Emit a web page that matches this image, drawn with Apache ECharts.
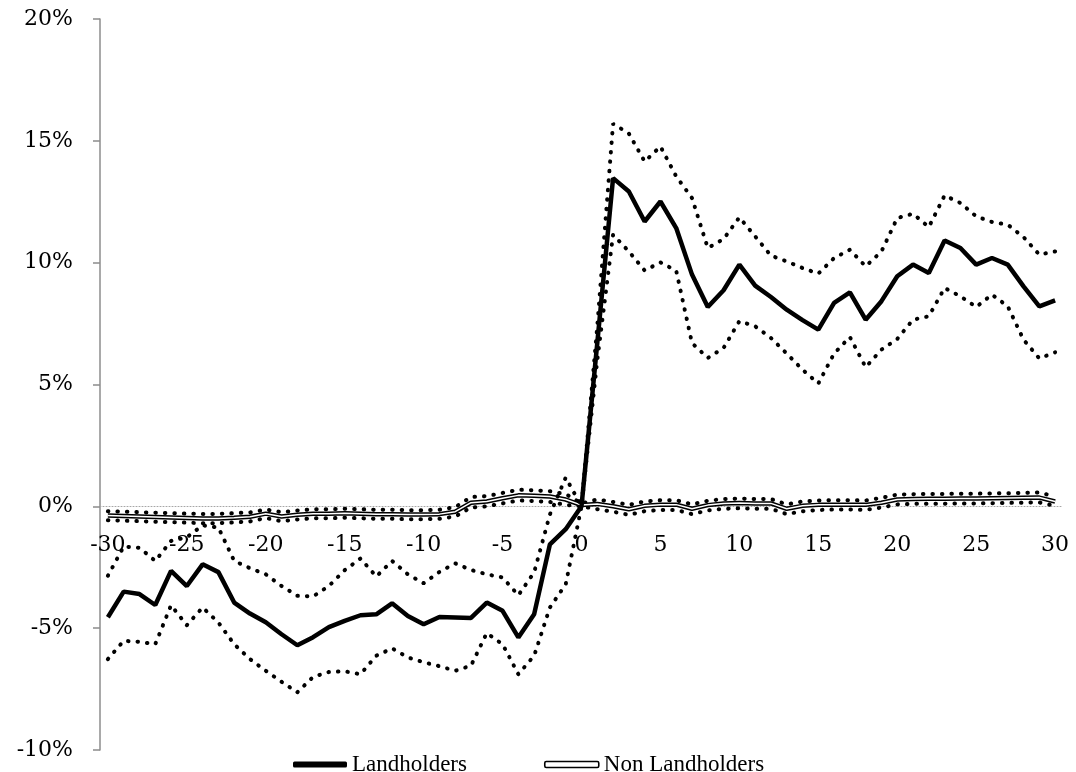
<!DOCTYPE html>
<html>
<head>
<meta charset="utf-8">
<script src="https://cdn.jsdelivr.net/npm/echarts@6/dist/echarts.min.js"></script>
<style>
html,body{margin:0;padding:0;background:#fff;}
#chart{width:1076px;height:772px;}
</style>
</head>
<body>
<div id="chart"></div>
<script>
const categories = ['-30','-29','-28','-27','-26','-25','-24','-23','-22','-21','-20','-19','-18','-17','-16','-15','-14','-13','-12','-11','-10','-9','-8','-7','-6','-5','-4','-3','-2','-1','0','1','2','3','4','5','6','7','8','9','10','11','12','13','14','15','16','17','18','19','20','21','22','23','24','25','26','27','28','29','30'];

const landholders = [-4.55,-3.5,-3.6,-4.05,-2.65,-3.27,-2.38,-2.7,-3.95,-4.4,-4.76,-5.25,-5.7,-5.37,-4.96,-4.7,-4.47,-4.43,-3.98,-4.5,-4.84,-4.54,-4.56,-4.58,-3.95,-4.29,-5.38,-4.43,-1.56,-0.94,0,6.7,13.47,12.92,11.69,12.51,11.42,9.51,8.18,8.87,9.92,9.06,8.59,8.07,7.64,7.25,8.35,8.78,7.66,8.42,9.44,9.92,9.58,10.91,10.6,9.92,10.19,9.92,9.03,8.21,8.45];

const landUpper = [-2.85,-1.65,-1.7,-2.24,-1.42,-1.27,-0.78,-0.87,-2.24,-2.54,-2.79,-3.27,-3.67,-3.7,-3.27,-2.62,-2.14,-2.88,-2.24,-2.79,-3.16,-2.69,-2.34,-2.61,-2.79,-2.92,-3.65,-2.71,-0.33,1.18,0,7.4,15.7,15.3,14.15,14.77,13.54,12.65,10.6,10.97,11.86,11.08,10.29,10.05,9.78,9.55,10.19,10.53,9.85,10.46,11.83,12.01,11.46,12.76,12.45,11.9,11.67,11.56,11.05,10.33,10.46];

const landLower = [-6.27,-5.52,-5.56,-5.66,-4.06,-4.88,-4.15,-4.77,-5.66,-6.27,-6.75,-7.2,-7.63,-7.0,-6.8,-6.77,-6.89,-6.13,-5.83,-6.2,-6.4,-6.56,-6.75,-6.54,-5.2,-5.66,-6.89,-6.13,-4.15,-3.2,0,6.0,11.15,10.46,9.68,10.01,9.67,6.7,6.09,6.5,7.6,7.39,6.91,6.27,5.61,5.04,6.27,6.95,5.71,6.43,6.87,7.66,7.8,8.96,8.62,8.18,8.69,8.21,6.84,6.07,6.32];

const nonLandholders = [-0.38,-0.4,-0.42,-0.44,-0.46,-0.48,-0.5,-0.5,-0.47,-0.43,-0.3,-0.42,-0.35,-0.3,-0.3,-0.28,-0.3,-0.32,-0.32,-0.34,-0.34,-0.32,-0.22,0.15,0.2,0.33,0.45,0.43,0.4,0.28,0.05,0.1,0.0,-0.12,0.02,0.07,0.07,-0.1,0.05,0.12,0.14,0.12,0.12,-0.1,0.02,0.06,0.07,0.07,0.06,0.15,0.28,0.3,0.31,0.31,0.32,0.32,0.33,0.34,0.35,0.36,0.2];

const nonUpper = [-0.2,-0.22,-0.24,-0.26,-0.28,-0.3,-0.31,-0.31,-0.28,-0.25,-0.13,-0.24,-0.17,-0.12,-0.12,-0.1,-0.12,-0.14,-0.14,-0.16,-0.16,-0.14,-0.03,0.38,0.42,0.55,0.68,0.66,0.62,0.5,0.12,0.28,0.18,0.06,0.2,0.25,0.25,0.08,0.23,0.3,0.32,0.3,0.3,0.08,0.2,0.24,0.25,0.25,0.24,0.35,0.48,0.5,0.51,0.51,0.52,0.52,0.53,0.54,0.55,0.57,0.4];

const nonLower = [-0.57,-0.59,-0.61,-0.63,-0.65,-0.67,-0.69,-0.69,-0.66,-0.62,-0.48,-0.61,-0.54,-0.49,-0.49,-0.47,-0.49,-0.51,-0.51,-0.53,-0.53,-0.51,-0.42,-0.05,0.0,0.12,0.24,0.22,0.18,0.06,0.0,-0.12,-0.22,-0.35,-0.2,-0.15,-0.15,-0.32,-0.17,-0.1,-0.08,-0.1,-0.1,-0.32,-0.2,-0.15,-0.13,-0.13,-0.14,-0.05,0.08,0.1,0.11,0.11,0.12,0.12,0.13,0.14,0.15,0.16,0.02];

const yMin = -10, yMax = 20, yStep = 5;
const TICK_FONT = 'DejaVu Serif';
const LEGEND_FONT = 'Liberation Serif';
const dotStyle = {color:'#000', width:4, type:[0.5, 9], cap:'round'};

const gridTop = 19, gridBottom = 22, chartH = 772;
const plotH = chartH - gridTop - gridBottom;
const zeroOffset = -(plotH * (0 - yMin) / (yMax - yMin));

const chart = echarts.init(document.getElementById('chart'), null, {renderer:'canvas'});
chart.setOption({
  animation:false,
  backgroundColor:'#fff',
  grid:{left:100, right:13, top:gridTop, bottom:gridBottom, containLabel:false},
  legend:{
    left:288, top:748, itemGap:77, itemWidth:54, itemHeight:6,
    textStyle:{fontFamily:LEGEND_FONT, fontSize:23, color:'#000'},
    selectedMode:false,
    data:[
      {name:'Landholders', icon:'roundRect', itemStyle:{color:'#000', borderWidth:0}},
      {name:'Non Landholders', icon:'roundRect', itemStyle:{color:'#fff', borderColor:'#000', borderWidth:1.6}}
    ]
  },
  xAxis:{
    type:'category', data:categories, boundaryGap:true, position:'bottom', offset:zeroOffset,
    axisLine:{onZero:false, lineStyle:{color:'#a6a6a6', width:1, type:[1,2]}},
    axisTick:{show:false},
    axisLabel:{interval:4, margin:28, fontFamily:TICK_FONT, fontSize:22, color:'#000'},
    splitLine:{show:false}
  },
  yAxis:{
    type:'value', min:yMin, max:yMax, interval:yStep,
    axisLine:{show:true, lineStyle:{color:'#8c8c8c', width:1.5}},
    axisTick:{show:true, length:7, lineStyle:{color:'#8c8c8c', width:1.5}},
    axisLabel:{formatter:'{value}%', margin:27, fontFamily:TICK_FONT, fontSize:22, color:'#000'},
    splitLine:{show:false}
  },
  series:[
    {name:'Non Landholders upper', type:'line', data:nonUpper, symbol:'none', silent:true, lineStyle:dotStyle, z:2},
    {name:'Non Landholders lower', type:'line', data:nonLower, symbol:'none', silent:true, lineStyle:dotStyle, z:2},
    {name:'Non Landholders', type:'line', data:nonLandholders, symbol:'none', silent:true, lineStyle:{color:'#000', width:4.5}, itemStyle:{color:'#000'}, z:3},
    {name:'Non Landholders inner', type:'line', data:nonLandholders, symbol:'none', silent:true, lineStyle:{color:'#fff', width:1.5}, z:4},
    {name:'Landholders upper', type:'line', data:landUpper, symbol:'none', silent:true, lineStyle:dotStyle, z:5},
    {name:'Landholders lower', type:'line', data:landLower, symbol:'none', silent:true, lineStyle:dotStyle, z:5},
    {name:'Landholders', type:'line', data:landholders, symbol:'none', silent:true, lineStyle:{color:'#000', width:4.5}, itemStyle:{color:'#000'}, z:6}
  ]
});
</script>
</body>
</html>
